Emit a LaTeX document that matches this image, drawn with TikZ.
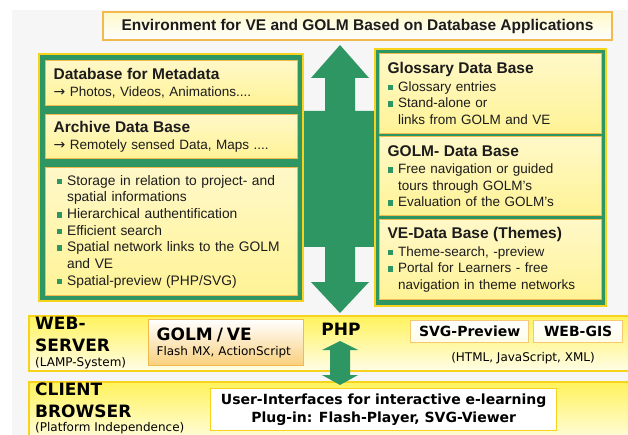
\documentclass[tikz,border=0pt]{standalone}
\usepackage{fontspec}
\setmainfont{Liberation Sans}
\newfontfamily\verd{DejaVu Sans}
\usetikzlibrary{positioning}

\definecolor{dbgreen}{HTML}{2E9662}
\definecolor{gold}{HTML}{F7D31E}
\definecolor{boxorange}{HTML}{F2BA4E}
\definecolor{boxtop}{HTML}{FFF8C8}
\definecolor{boxbottom}{HTML}{FFF396}
\definecolor{bandyellow}{HTML}{FFF35C}
\definecolor{bandpale}{HTML}{FFFDE6}
\definecolor{peach}{HTML}{F9CF7C}
\definecolor{pagegray}{HTML}{F6F6F6}
\definecolor{textdark}{HTML}{1C1C1C}

\newcommand{\gb}{\textcolor{dbgreen}{\raisebox{1pt}{\rule{5.5pt}{5.5pt}}}\hspace{5pt}}
\newcommand{\gbin}{\hspace*{10.5pt}}
\newcommand{\dbhead}{\fontsize{15.5}{17}\selectfont\bfseries}
\newcommand{\toarrow}{{\verd\fontsize{14}{16}\selectfont →}}

\begin{document}
\begin{tikzpicture}[x=1pt,y=-1pt,
    greenbox/.style={draw=gold, fill=dbgreen, line width=2pt, anchor=north west, inner sep=0pt},
    dbbox/.style={draw=boxorange, line width=1.3pt, top color=boxtop, middle color=white, bottom color=boxbottom,
        anchor=north west, align=left, inner ysep=0pt, text=textdark, font=\fontsize{13.5}{16.6}\selectfont},
    band/.style={draw=gold, line width=1.5pt, top color=bandyellow, bottom color=bandpale, anchor=north west, inner sep=0pt},
    techbox/.style={draw=boxorange, line width=1.3pt, top color=white, bottom color=peach, anchor=north west},
    smallbox/.style={draw=boxorange!80, line width=1.3pt, top color=white, bottom color=bandpale, anchor=north west,
        inner sep=0pt, font=\verd\fontsize{14}{16}\selectfont\bfseries},
    bandtext/.style={anchor=north west, align=left, inner sep=0pt, font=\verd\fontsize{17}{22}\selectfont\bfseries}
]
\useasboundingbox (0,0) rectangle (628,435);
\fill[pagegray] (12,10) rectangle (628,435);

% title
\node[draw=boxorange, line width=1.3pt, top color=boxtop, bottom color=white, minimum width=509pt, minimum height=28pt,
    font=\fontsize{15.5}{17}\selectfont\bfseries, text=textdark] (title) at (357.5,26)
    {Environment for VE and GOLM Based on Database Applications};

% big green arrow between the data bases
\fill[dbgreen] (340,45) -- (369,78) -- (355,78) -- (355,111) -- (375,111) -- (375,247) -- (355,247) -- (355,282)
    -- (369,282) -- (340,313) -- (311,282) -- (325,282) -- (325,247) -- (302,247) -- (302,111) -- (325,111)
    -- (325,78) -- (311,78) -- cycle;

% left data bases
\node[greenbox, minimum width=264pt, minimum height=247pt] (leftdb) at (38,53) {};
\node[dbbox, minimum width=252pt, minimum height=45pt, text width=236pt, inner xsep=8pt] (meta) at (45,60)
    {{\dbhead Database for Metadata}\\ \toarrow\ Photos, Videos, Animations....};
\node[dbbox, minimum width=252pt, minimum height=44pt, text width=236pt, inner xsep=8pt] (archive) at (45,114)
    {{\dbhead Archive Data Base}\\ \toarrow\ Remotely sensed Data, Maps ....};
\node[dbbox, minimum width=252pt, minimum height=128pt, text width=230pt, inner xsep=11pt,
    font=\fontsize{13.8}{16.7}\selectfont] (spatial) at (45,167)
    {\gb Storage in relation to project- and\\
     \gbin spatial informations\\
     \gb Hierarchical authentification\\
     \gb Efficient search\\
     \gb Spatial network links to the GOLM\\
     \gbin and VE\\
     \gb Spatial-preview (PHP/SVG)};

% right data bases
\node[greenbox, minimum width=231pt, minimum height=257pt] (rightdb) at (374,48) {};
\node[dbbox, minimum width=222pt, minimum height=80pt, text width=206pt, inner xsep=8pt] (glossary) at (379,53)
    {{\dbhead Glossary Data Base}\\[1pt]
     \gb Glossary entries\\
     \gb Stand-alone or\\
     \gbin links from GOLM and VE};
\node[dbbox, minimum width=222pt, minimum height=79pt, text width=206pt, inner xsep=8pt] (golmdb) at (379,136)
    {{\dbhead GOLM- Data Base}\\[1pt]
     \gb Free navigation or guided\\
     \gbin tours through GOLM's\\
     \gb Evaluation of the GOLM's};
\node[dbbox, minimum width=222pt, minimum height=80pt, text width=206pt, inner xsep=8pt] (vedb) at (379,219)
    {{\dbhead VE-Data Base (Themes)}\\[1pt]
     \gb Theme-search, -preview\\
     \gb Portal for Learners - free\\
     \gbin navigation in theme networks};

% web server and client
\node[band, minimum width=612pt, minimum height=55pt] (webserver) at (28,315) {};
\node[band, minimum width=612pt, minimum height=62pt] (client) at (28,381) {};

\node[bandtext] (webtxt) at (35,317)
    {WEB-\\SERVER\\[-7pt]{\mdseries\fontsize{12}{14}\selectfont (LAMP-System)}};
\node[bandtext] (clienttxt) at (35,383)
    {CLIENT\\BROWSER\\[-8pt]{\mdseries\fontsize{12}{14}\selectfont (Platform Independence)}};

\node[techbox, minimum width=155pt, minimum height=46pt, text width=139pt, inner xsep=8pt, inner ysep=0pt, align=left,
    font=\verd\fontsize{12}{15}\selectfont] (golmve) at (148,319)
    {{\fontsize{17}{17}\selectfont\bfseries GOLM / VE}\\ Flash MX, ActionScript};

\node[font=\verd\fontsize{17}{17}\selectfont\bfseries, inner sep=0pt] (php) at (341,329.5) {PHP};

\node[smallbox, minimum width=118pt, minimum height=22pt] (svgprev) at (410,320) {SVG-Preview};
\node[smallbox, minimum width=89pt, minimum height=22pt] (webgis) at (533,320) {WEB-GIS};
\node[font=\verd\fontsize{12}{14}\selectfont, inner sep=0pt] (webtech) at (523,358) {(HTML, JavaScript, XML)};

\node[draw=gold, line width=1.3pt, fill=white, anchor=north west, minimum width=346pt, minimum height=42pt,
    align=center, inner sep=0pt, font=\verd\fontsize{14}{18}\selectfont\bfseries] (ui) at (210,388)
    {User-Interfaces for interactive e-learning\\Plug-in: Flash-Player, SVG-Viewer};

% small arrow between server and client
\fill[dbgreen] (340,341) -- (358,350) -- (350,350) -- (350,375) -- (358,375) -- (340,385)
    -- (322,375) -- (330,375) -- (330,350) -- (322,350) -- cycle;
\end{tikzpicture}
\end{document}
